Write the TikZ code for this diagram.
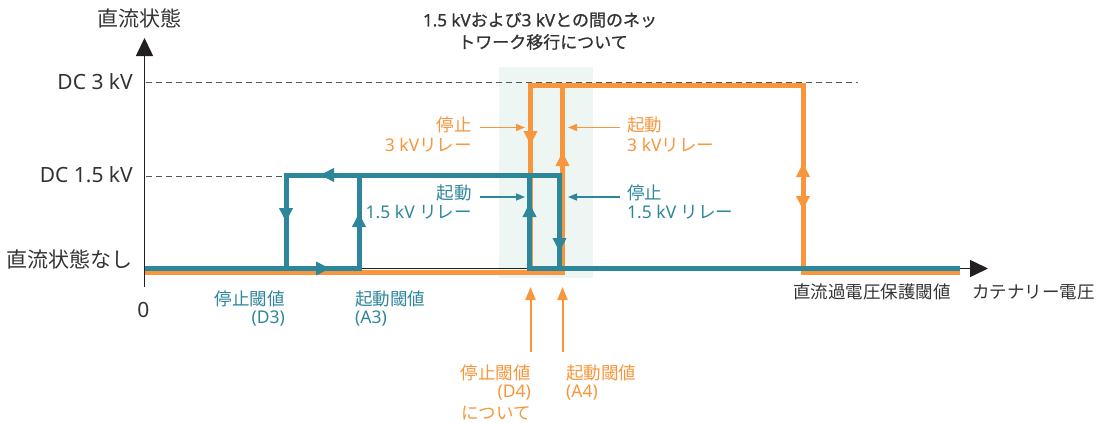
\documentclass[tikz,border=0pt]{standalone}
\usepackage{fontspec}
\setmainfont{Noto Sans}
\newfontfamily\jpf{Noto Sans CJK JP}
\newfontfamily\ttlf{Noto Sans}[FakeBold=0.9]
\newfontfamily\jpttl{Noto Sans CJK JP}[FakeBold=0.9]
\usetikzlibrary{arrows.meta}
\definecolor{tealc}{HTML}{2E869B}
\definecolor{orangec}{HTML}{F7963C}
\definecolor{shadec}{HTML}{EDF6F2}
\definecolor{darkc}{HTML}{333333}
\definecolor{axisc}{HTML}{231F20}
\definecolor{dashc}{HTML}{555555}
\begin{document}
\begin{tikzpicture}[x=1pt,y=-1pt,
  lbl/.style={inner sep=0pt, font=\fontsize{17.5}{20}\selectfont},
  tlbl/.style={lbl, text=tealc},
  olbl/.style={lbl, text=orangec},
  dlbl/.style={lbl, text=darkc},
  ttllbl/.style={inner sep=0pt, text=darkc, font=\fontsize{17}{20}\selectfont\ttlf},
  axlbl/.style={inner sep=0pt, font=\fontsize{21}{24}\selectfont, text=darkc},
  tl/.style={draw=tealc, line width=5pt},
  ol/.style={draw=orangec, line width=5pt},
  ttip/.style={-{Triangle[length=14pt,width=13pt]}},
  thinarrow/.style={line width=1.5pt, -{Triangle[length=9pt,width=7pt]}},
  dashline/.style={draw=dashc, line width=1pt, dash pattern=on 6pt off 4pt},
  axisline/.style={draw=axisc, line width=1.5pt, -{Triangle[length=18pt,width=17pt]}},
]
\useasboundingbox (0,0) rectangle (1096,423);
% shaded transition zone
\fill[shadec] (499,67) rectangle (593,278);

% coordinates
\coordinate (O) at (144.5,287);
\coordinate (ytop) at (144.5,38);
\coordinate (x0) at (144.5,268.5);
\coordinate (xend) at (988,268.5);

% dashed reference lines
\coordinate (d3a) at (146,82);
\coordinate (d3b) at (858,82);
\coordinate (d15a) at (146,176);
\coordinate (d15b) at (284,176);
\draw[dashline] (d3a) -- (d3b);
\draw[dashline] (d15a) -- (d15b);

% axes
\draw[axisline] (O) -- (ytop);
\draw[axisline] (x0) -- (xend);

% orange (3 kV) relay curve
\coordinate (ob0) at (144.5,272.5);
\coordinate (obR) at (562.5,272.5);
\coordinate (orT) at (562.5,85);
\coordinate (olB) at (530.5,272.5);
\coordinate (olT) at (530.5,85);
\coordinate (oxT) at (803,85);
\coordinate (oxB) at (803,272.5);
\coordinate (oend) at (960,272.5);
\draw[ol] (ob0) -- (obR) -- (orT);
\draw[ol] (olB) -- (olT) -- (oxT) -- (oxB) -- (oend);
\coordinate (oltip) at (530.5,145);
\coordinate (ortip) at (562.5,152);
\coordinate (oxup) at (803,163);
\coordinate (oxdn) at (803,210);
\draw[ol,ttip] (olT) -- (oltip);
\draw[ol,ttip] (obR) -- (ortip);
\draw[ol,ttip] (oxB) -- (oxup);
\draw[ol,ttip] (oxT) -- (oxdn);

% teal (1.5 kV) relay curve
\coordinate (tb0) at (144.5,268.5);
\coordinate (t2B) at (359,268.5);
\coordinate (t2T) at (359,175);
\coordinate (t1B) at (286,268.5);
\coordinate (t1T) at (286,175);
\coordinate (t4T) at (559.5,175);
\coordinate (t4B) at (559.5,268.5);
\coordinate (tend) at (960,268.5);
\coordinate (t3T) at (529.5,175);
\coordinate (t3B) at (529.5,268.5);
\draw[tl] (tb0) -- (t2B) -- (t2T);
\draw[tl] (t1B) -- (t1T) -- (t4T) -- (t4B) -- (tend);
\draw[tl] (t3T) -- (t3B) -- (t4B);
\coordinate (tbtip) at (330,268.5);
\coordinate (t1tip) at (286,222);
\coordinate (t2tip) at (359,213);
\coordinate (tTtip) at (320,175);
\coordinate (t3tip) at (529.5,203);
\coordinate (t4tip) at (559.5,252);
\draw[tl,ttip] (tb0) -- (tbtip);
\draw[tl,ttip] (t1T) -- (t1tip);
\draw[tl,ttip] (t2B) -- (t2tip);
\draw[tl,ttip] (t4T) -- (tTtip);
\draw[tl,ttip] (t3B) -- (t3tip);
\draw[tl,ttip] (t4T) -- (t4tip);

% axis labels
\node[axlbl, anchor=center] (ylab) at (139,18.5) {\jpf 直流状態};
\node[axlbl, anchor=east] (l3) at (133,82) {DC 3 kV};
\node[axlbl, anchor=east] (l15) at (133,175) {DC 1.5 kV};
\node[axlbl, anchor=east] (l0) at (133,259.5) {\jpf 直流状態なし};
\node[axlbl, anchor=center] (zero) at (143.5,309.5) {0};
\node[dlbl, anchor=west] (ovp) at (793,292) {\jpf 直流過電圧保護閾値};
\node[dlbl, anchor=west] (xlab) at (972,292) {\jpf カテナリー電圧};

% title
\node[ttllbl, anchor=center] (title1) at (540,20) {1.5 kV{\jpttl および}3 kV{\jpttl との間のネッ}};
\node[ttllbl, anchor=center] (title2) at (543,42) {\jpttl トワーク移行について};

% orange relay labels
\node[olbl, anchor=east] (os1) at (472,124.5) {\jpf 停止};
\node[olbl, anchor=east] (os2) at (472,145) {3 kV{\jpf リレー}};
\node[olbl, anchor=west] (oa1) at (627,124.5) {\jpf 起動};
\node[olbl, anchor=west] (oa2) at (627,145) {3 kV{\jpf リレー}};
\coordinate (oarrL0) at (480,127.5);
\coordinate (oarrL1) at (525,127.5);
\coordinate (oarrR0) at (620,127.5);
\coordinate (oarrR1) at (568,127.5);
\draw[orangec, thinarrow] (oarrL0) -- (oarrL1);
\draw[orangec, thinarrow] (oarrR0) -- (oarrR1);

% teal relay labels
\node[tlbl, anchor=east] (ta1) at (472,192.5) {\jpf 起動};
\node[tlbl, anchor=east] (ta2) at (472,212.5) {1.5 kV {\jpf リレー}};
\node[tlbl, anchor=west] (ts1) at (627,192.5) {\jpf 停止};
\node[tlbl, anchor=west] (ts2) at (627,212.5) {1.5 kV {\jpf リレー}};
\coordinate (tarrL0) at (480,197);
\coordinate (tarrL1) at (525,197);
\coordinate (tarrR0) at (620,197);
\coordinate (tarrR1) at (568,197);
\draw[tealc, thinarrow] (tarrL0) -- (tarrL1);
\draw[tealc, thinarrow] (tarrR0) -- (tarrR1);

% teal thresholds
\node[tlbl, anchor=east] (d3a1) at (285,299) {\jpf 停止閾値};
\node[tlbl, anchor=east] (d3a2) at (285,319) {(D3)};
\node[tlbl, anchor=west] (a3a1) at (355,299) {\jpf 起動閾値};
\node[tlbl, anchor=west] (a3a2) at (355,319) {(A3)};

% orange thresholds
\coordinate (d4s) at (530.5,352);
\coordinate (d4e) at (530.5,287);
\coordinate (a4s) at (562.5,352);
\coordinate (a4e) at (562.5,287);
\draw[orangec, line width=2pt, -{Triangle[length=13pt,width=10pt]}] (d4s) -- (d4e);
\draw[orangec, line width=2pt, -{Triangle[length=13pt,width=10pt]}] (a4s) -- (a4e);
\node[olbl, anchor=east] (d4l1) at (531,372.5) {\jpf 停止閾値};
\node[olbl, anchor=east] (d4l2) at (531,393) {(D4)};
\node[olbl, anchor=east] (d4l3) at (531,413) {\jpf について};
\node[olbl, anchor=west] (a4l1) at (566,372.5) {\jpf 起動閾値};
\node[olbl, anchor=west] (a4l2) at (566,393) {(A4)};
\end{tikzpicture}
\end{document}
